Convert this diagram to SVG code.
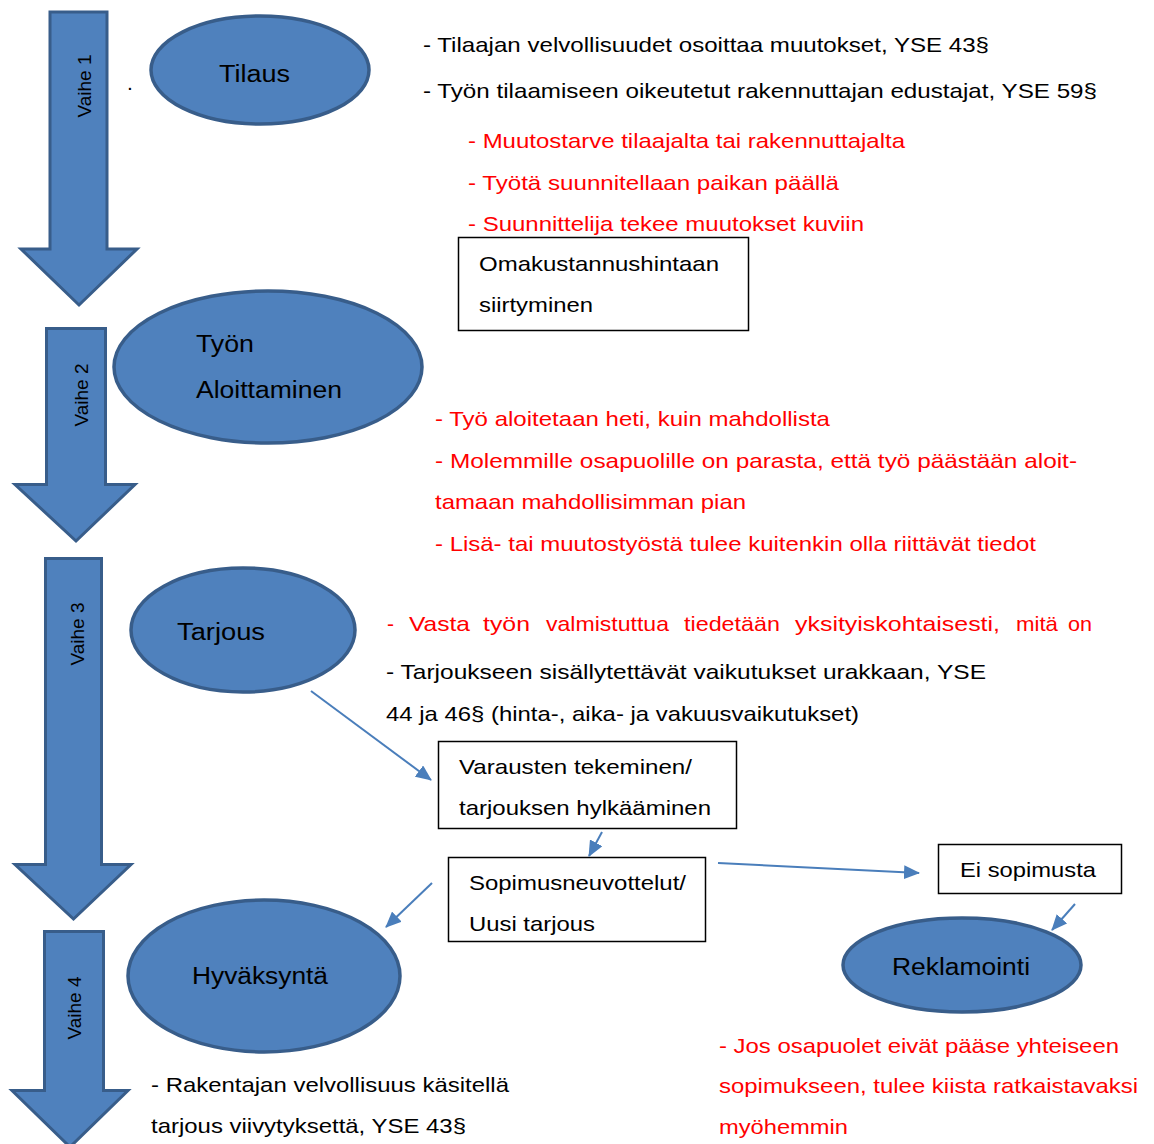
<svg xmlns="http://www.w3.org/2000/svg" width="1154" height="1144" viewBox="0 0 1154 1144">
<defs>
<style>
.stage{fill:#4F81BD;stroke:#385D8A;stroke-width:3;stroke-linejoin:miter}
.node{fill:#4F81BD;stroke:#385D8A;stroke-width:3.5}
.box{fill:#FFFFFF;stroke:#000000;stroke-width:1.5}
.lbl{font-family:"Liberation Sans",Arial,sans-serif;font-size:23px;fill:#000000}
.vh{font-family:"Liberation Sans",Arial,sans-serif;font-size:19px;fill:#000000;text-anchor:middle}
.t{font-family:"Liberation Sans",Arial,sans-serif;font-size:21px;fill:#000000}
.r{font-family:"Liberation Sans",Arial,sans-serif;font-size:21px;fill:#FF0000}
.bt{font-family:"Liberation Sans",Arial,sans-serif;font-size:21px;fill:#000000}
.conn{stroke:#4A7EBB;stroke-width:2;fill:none;marker-end:url(#ah)}
</style>
<marker id="ah" markerUnits="userSpaceOnUse" markerWidth="18" markerHeight="14" refX="15" refY="7" orient="auto">
<path d="M0,0 L16,7 L0,14 Z" fill="#4A7EBB"/>
</marker>
</defs>
<rect width="1154" height="1144" fill="#FFFFFF"/>

<g id="stage1">
<polygon class="stage" points="50,12 107,12 107,249 137,249 79,305 21,249 50,249"/>
<text class="vh" transform="translate(91,86) rotate(-90)">Vaihe 1</text>
</g>
<g id="stage2">
<polygon class="stage" points="46.5,328.5 105.5,328.5 105.5,484.5 135,484.5 76,541 15,484.5 46.5,484.5"/>
<text class="vh" transform="translate(88,395) rotate(-90)">Vaihe 2</text>
</g>
<g id="stage3">
<polygon class="stage" points="45.5,558.5 101.5,558.5 101.5,864.5 131,864.5 73.5,919 15,864.5 45.5,864.5"/>
<text class="vh" transform="translate(84,634) rotate(-90)">Vaihe 3</text>
</g>
<g id="stage4">
<polygon class="stage" points="44.5,931.5 103.5,931.5 103.5,1090.5 128,1090.5 70,1147 12,1090.5 44.5,1090.5"/>
<text class="vh" transform="translate(81,1008) rotate(-90)">Vaihe 4</text>
</g>

<text class="t" x="127" y="90">.</text>

<g id="tilaus">
<ellipse class="node" cx="260" cy="70" rx="109" ry="54"/>
<text class="lbl" x="219" y="82" textLength="71" lengthAdjust="spacingAndGlyphs">Tilaus</text>
</g>
<g id="tyon-aloittaminen">
<ellipse class="node" cx="268" cy="367" rx="154" ry="76"/>
<text class="lbl" x="196" y="352" textLength="58" lengthAdjust="spacingAndGlyphs">Työn</text>
<text class="lbl" x="196" y="398" textLength="146" lengthAdjust="spacingAndGlyphs">Aloittaminen</text>
</g>
<g id="tarjous">
<ellipse class="node" cx="243" cy="630" rx="112" ry="62"/>
<text class="lbl" x="177" y="640" textLength="88" lengthAdjust="spacingAndGlyphs">Tarjous</text>
</g>
<g id="hyvaksynta">
<ellipse class="node" cx="264" cy="976" rx="136" ry="76"/>
<text class="lbl" x="192" y="984" textLength="136" lengthAdjust="spacingAndGlyphs">Hyväksyntä</text>
</g>
<g id="reklamointi">
<ellipse class="node" cx="962" cy="965" rx="119" ry="47"/>
<text class="lbl" x="892" y="975" textLength="138" lengthAdjust="spacingAndGlyphs">Reklamointi</text>
</g>

<g id="omakustannus">
<rect class="box" x="458.5" y="237.5" width="290" height="93"/>
<text class="bt" x="479" y="271" textLength="240" lengthAdjust="spacingAndGlyphs">Omakustannushintaan</text>
<text class="bt" x="479" y="312" textLength="114" lengthAdjust="spacingAndGlyphs">siirtyminen</text>
</g>
<g id="varausten">
<rect class="box" x="438.5" y="741.5" width="298" height="87"/>
<text class="bt" x="459" y="774" textLength="233" lengthAdjust="spacingAndGlyphs">Varausten tekeminen/</text>
<text class="bt" x="459" y="815" textLength="252" lengthAdjust="spacingAndGlyphs">tarjouksen hylkääminen</text>
</g>
<g id="sopimusneuvottelut">
<rect class="box" x="448.5" y="857.5" width="257" height="84"/>
<text class="bt" x="469" y="890" textLength="217" lengthAdjust="spacingAndGlyphs">Sopimusneuvottelut/</text>
<text class="bt" x="469" y="931" textLength="126" lengthAdjust="spacingAndGlyphs">Uusi tarjous</text>
</g>
<g id="ei-sopimusta">
<rect class="box" x="938.5" y="844.5" width="183" height="49"/>
<text class="bt" x="960" y="877" textLength="136" lengthAdjust="spacingAndGlyphs">Ei sopimusta</text>
</g>

<g id="connectors">
<line class="conn" x1="311" y1="691" x2="431" y2="780"/>
<line class="conn" x1="602" y1="832" x2="589" y2="856"/>
<line class="conn" x1="432" y1="883" x2="386" y2="927"/>
<line class="conn" x1="718" y1="863" x2="919" y2="873"/>
<line class="conn" x1="1075" y1="904" x2="1052" y2="930"/>
</g>

<g id="notes">
<text class="t" x="423" y="52" textLength="566" lengthAdjust="spacingAndGlyphs">- Tilaajan velvollisuudet osoittaa muutokset, YSE 43§</text>
<text class="t" x="423" y="98" textLength="674" lengthAdjust="spacingAndGlyphs">- Työn tilaamiseen oikeutetut rakennuttajan edustajat, YSE 59§</text>
<text class="r" x="468" y="148" textLength="437" lengthAdjust="spacingAndGlyphs">- Muutostarve tilaajalta tai rakennuttajalta</text>
<text class="r" x="468" y="190" textLength="371" lengthAdjust="spacingAndGlyphs">- Työtä suunnitellaan paikan päällä</text>
<text class="r" x="468" y="231" textLength="396" lengthAdjust="spacingAndGlyphs">- Suunnittelija tekee muutokset kuviin</text>
<text class="r" x="435" y="426" textLength="395" lengthAdjust="spacingAndGlyphs">- Työ aloitetaan heti, kuin mahdollista</text>
<text class="r" x="435" y="468" textLength="642" lengthAdjust="spacingAndGlyphs">- Molemmille osapuolille on parasta, että työ päästään aloit-</text>
<text class="r" x="435" y="509" textLength="311" lengthAdjust="spacingAndGlyphs">tamaan mahdollisimman pian</text>
<text class="r" x="435" y="551" textLength="601" lengthAdjust="spacingAndGlyphs">- Lisä- tai muutostyöstä tulee kuitenkin olla riittävät tiedot</text>
<text class="r" y="631"><tspan x="387">-</tspan><tspan x="409" textLength="61" lengthAdjust="spacingAndGlyphs">Vasta</tspan><tspan x="483" textLength="47" lengthAdjust="spacingAndGlyphs">työn</tspan><tspan x="546" textLength="123" lengthAdjust="spacingAndGlyphs">valmistuttua</tspan><tspan x="684" textLength="96" lengthAdjust="spacingAndGlyphs">tiedetään</tspan><tspan x="795" textLength="205" lengthAdjust="spacingAndGlyphs">yksityiskohtaisesti,</tspan><tspan x="1016" textLength="42" lengthAdjust="spacingAndGlyphs">mitä</tspan><tspan x="1068" textLength="24" lengthAdjust="spacingAndGlyphs">on</tspan></text>
<text class="t" x="386" y="679" textLength="600" lengthAdjust="spacingAndGlyphs">- Tarjoukseen sisällytettävät vaikutukset urakkaan, YSE</text>
<text class="t" x="386" y="721" textLength="473" lengthAdjust="spacingAndGlyphs">44 ja 46§ (hinta-, aika- ja vakuusvaikutukset)</text>
<text class="t" x="151" y="1092" textLength="358" lengthAdjust="spacingAndGlyphs">- Rakentajan velvollisuus käsitellä</text>
<text class="t" x="151" y="1133" textLength="315" lengthAdjust="spacingAndGlyphs">tarjous viivytyksettä, YSE 43§</text>
<text class="r" x="719" y="1053" textLength="400" lengthAdjust="spacingAndGlyphs">- Jos osapuolet eivät pääse yhteiseen</text>
<text class="r" x="719" y="1093" textLength="419" lengthAdjust="spacingAndGlyphs">sopimukseen, tulee kiista ratkaistavaksi</text>
<text class="r" x="719" y="1134" textLength="129" lengthAdjust="spacingAndGlyphs">myöhemmin</text>
</g>
</svg>
